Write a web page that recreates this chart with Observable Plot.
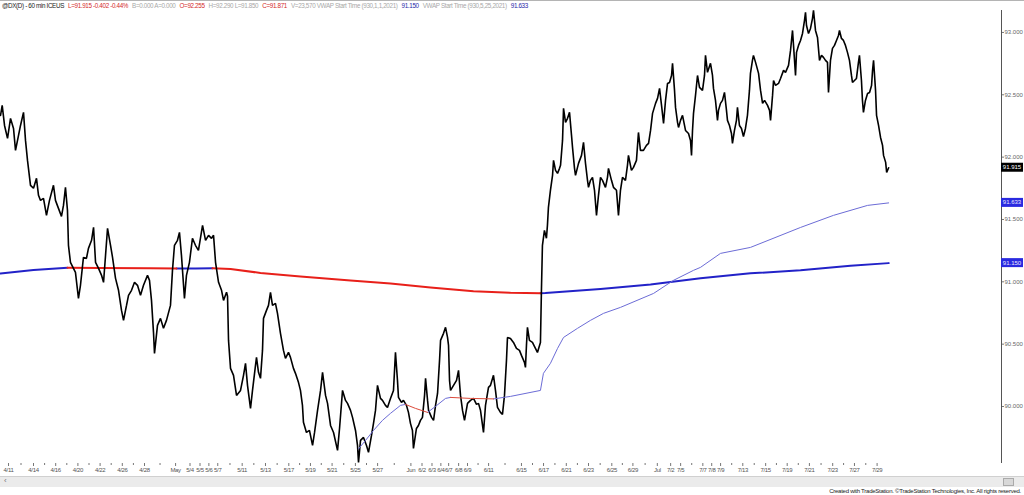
<!DOCTYPE html>
<html><head><meta charset="utf-8">
<script src="https://cdn.jsdelivr.net/npm/d3@7"></script>
<script src="https://cdn.jsdelivr.net/npm/@observablehq/plot@0.6"></script>
<style>
html,body{margin:0;padding:0;background:#fff;}
#wrap{position:relative;width:1024px;height:495px;overflow:hidden;font-family:"Liberation Sans",Arial,sans-serif;background:#fff;}
#topline{position:absolute;left:0;top:0;width:1024px;height:1px;background:#b4b4b4;}
#chart{position:absolute;left:0;top:0;}
#head{position:absolute;left:2px;top:1px;font-size:6.3px;letter-spacing:-0.35px;white-space:nowrap;line-height:9px;}
#head span{margin-right:4px;}
#band{position:absolute;left:0;top:476px;width:1024px;height:10px;background:#ebebeb;border-top:1px solid #d0d0d0;}
#arrow{position:absolute;left:4px;top:476px;font-size:8px;color:#777;line-height:10px;}
#icon{position:absolute;left:1003px;top:478px;width:9px;height:6px;background:#d8d8d8;border:1px solid #aaa;}
#foot{position:absolute;right:3px;top:487px;font-size:6px;letter-spacing:-0.25px;color:#222;line-height:8px;white-space:nowrap;}
</style></head>
<body>
<div id="wrap"><div id="topline"></div><div id="chart"></div><div id="head"></div><div id="band"></div><div id="arrow">‹</div><div id="icon"></div><div id="foot"></div></div>
<script>
// ---- DATA ----
// time in trading days since Apr 12 2021 (hourly bars compressed, weekends removed)
const t = [
-0.97,-0.82,-0.61,-0.34,-0.07,0.20,0.38,0.65,0.83,1.10,
1.28,1.46,1.73,2.00,2.27,2.45,2.63,2.90,3.17,3.44,
3.80,3.98,4.25,4.52,4.70,4.88,5.06,5.15,5.33,5.60,
5.78,6.05,6.23,6.50,6.77,6.95,7.23,7.41,7.59,7.86,
8.13,8.31,8.67,8.94,9.12,9.39,9.66,9.93,10.11,10.38,
10.56,10.83,11.10,11.37,11.64,11.91,12.27,12.45,12.63,12.81,
12.90,13.17,13.44,13.71,13.98,14.34,14.52,14.70,14.97,15.15,
15.33,15.60,15.78,16.05,16.32,16.59,16.86,17.23,17.50,17.77,
18.04,18.22,18.40,18.67,18.94,19.12,19.39,19.48,19.57,19.75,
20.02,20.29,20.65,20.92,21.10,21.28,21.55,21.73,22.00,22.09,
22.27,22.45,22.63,22.72,22.99,23.17,23.35,23.53,23.80,23.98,
24.25,24.52,24.70,24.97,25.15,25.42,25.60,25.87,26.05,26.23,
26.32,26.59,26.86,27.14,27.32,27.59,27.86,28.04,28.31,28.49,
28.76,29.03,29.39,29.57,29.84,30.11,30.29,30.56,30.74,31.01,
31.19,31.28,31.46,31.73,32.00,32.18,32.45,32.63,32.81,32.99,
33.26,33.44,33.71,33.89,34.16,34.43,34.61,34.79,34.88,35.15,
35.33,35.60,35.78,35.96,36.14,36.23,36.50,36.68,36.86,37.04,
37.23,37.32,37.50,37.59,37.86,38.04,38.22,38.40,38.58,38.67,
38.94,39.12,39.30,39.39,39.48,39.57,39.84,40.11,40.29,40.47,
40.65,40.83,41.10,41.37,41.64,41.91,42.09,42.27,42.54,42.72,
42.99,43.17,43.44,43.62,43.80,44.07,44.25,44.43,44.61,44.70,
44.97,45.24,45.51,45.78,45.96,46.23,46.32,46.41,46.50,46.68,
46.95,47.22,47.40,47.67,47.76,47.85,48.03,48.21,48.30,48.39,
48.57,48.76,48.85,49.03,49.21,49.39,49.48,49.66,49.75,49.93,
50.11,50.29,50.47,50.56,50.74,50.83,51.10,51.37,51.55,51.73,
51.91,52.00,52.18,52.36,52.54,52.72,52.90,53.08,53.26,53.53,
53.71,53.80,54.07,54.25,54.52,54.70,54.88,55.06,55.33,55.51,
55.60,55.87,56.05,56.32,56.50,56.68,56.95,57.22,57.41,57.59,
57.77,58.04,58.22,58.40,58.58,58.76,58.94,59.12,59.30,59.48,
59.57,59.75,59.84,60.02,60.11,60.29,60.47,60.65,60.74,61.01,
61.19,61.28,61.37,61.46,61.64,61.82,62.00,62.27,62.45,62.54,
62.72,62.99,63.17,63.26,63.44,63.62,63.71,63.89,64.07,64.25,
64.43,64.52,64.70,64.88,64.97,65.15,65.33,65.42,65.60,65.78,
65.96,66.14,66.32,66.50,66.59,66.77,66.86,67.05,67.32,67.50,
67.68,67.86,68.13,68.31,68.40,68.58,68.67,68.85,69.12,69.30,
69.57,69.75,70.02,70.20,70.38,70.47,70.65,70.74,70.92,71.10,
71.28,71.46,71.55,71.64,71.82,72.00,72.18,72.27,72.45,72.63,
72.81,72.99,73.17,73.35,73.53,73.62,73.80,73.98,74.16,74.34,
74.52,74.61,74.79,74.97,75.15,75.33,75.51,75.69,75.78,75.96,
76.14,76.32,76.41,76.59,76.68,76.77,76.95,77.14,77.32,77.50,
77.59,77.68,77.86,77.95,78.13,78.31,78.49,78.58,78.77,78.86,
79.04];
// DX price (hourly)
const price = [
92.335,92.415,92.254,92.150,92.311,92.230,92.054,92.174,92.254,92.359,
92.134,91.974,91.774,91.750,91.830,91.694,91.653,91.670,91.533,91.653,
91.774,91.653,91.589,91.525,91.613,91.758,91.573,91.293,91.156,91.108,
91.076,90.867,90.972,91.196,91.188,91.268,91.333,91.437,91.156,91.108,
91.052,90.996,91.429,91.293,91.196,91.028,90.932,90.771,90.691,90.811,
90.892,90.932,90.996,90.972,90.892,90.972,91.052,91.012,90.851,90.595,
90.426,90.651,90.707,90.627,90.691,90.811,91.092,91.293,91.333,91.397,
91.212,90.867,91.052,91.156,91.349,91.293,91.252,91.453,91.333,91.373,
91.349,91.373,91.156,90.996,90.932,90.851,90.916,90.884,90.530,90.306,
90.250,90.089,90.129,90.250,90.346,90.170,89.985,90.129,90.330,90.394,
90.274,90.226,90.450,90.707,90.771,90.811,90.916,90.811,90.827,90.747,
90.587,90.450,90.386,90.434,90.394,90.306,90.266,90.194,90.129,90.009,
89.873,89.792,89.808,89.688,89.792,89.969,90.129,90.274,90.089,90.025,
89.848,89.792,89.648,89.824,90.129,90.049,90.025,89.969,89.913,89.808,
89.688,89.552,89.728,89.752,89.688,89.632,89.768,89.865,89.969,90.170,
90.065,90.049,90.009,89.993,90.065,90.129,90.434,90.210,90.073,90.033,
90.049,90.009,89.953,89.865,89.808,89.664,89.824,89.848,89.889,89.913,
90.089,90.226,90.049,89.969,89.913,89.889,90.009,90.105,90.370,90.530,
90.587,90.635,90.554,90.490,90.210,90.129,90.170,90.210,90.290,90.089,
89.969,89.889,90.025,90.049,90.065,90.017,90.025,89.969,89.792,90.009,
90.154,90.170,90.250,90.129,89.993,89.953,89.937,90.089,90.370,90.554,
90.546,90.514,90.466,90.450,90.410,90.354,90.314,90.490,90.635,90.530,
90.514,90.466,90.434,90.514,90.932,91.293,91.413,91.349,91.453,91.597,
91.734,91.854,91.974,91.894,91.870,91.910,91.934,92.134,92.391,92.279,
92.311,92.359,92.174,92.078,91.910,91.854,91.950,92.014,92.118,91.950,
91.814,91.758,91.814,91.838,91.734,91.533,91.694,91.838,91.814,91.758,
91.838,91.910,91.814,91.758,91.734,91.533,91.734,91.838,91.814,91.934,
92.014,91.894,91.918,91.974,92.198,92.054,92.054,92.094,92.110,92.214,
92.351,92.431,92.471,92.551,92.415,92.271,92.455,92.591,92.599,92.655,
92.752,92.535,92.399,92.279,92.238,92.295,92.335,92.254,92.214,92.190,
92.134,92.014,92.214,92.351,92.495,92.655,92.559,92.535,92.655,92.816,
92.680,92.752,92.655,92.551,92.455,92.295,92.375,92.431,92.455,92.519,
92.375,92.295,92.254,92.190,92.110,92.214,92.295,92.399,92.254,92.230,
92.166,92.230,92.335,92.535,92.672,92.776,92.816,92.760,92.672,92.535,
92.431,92.455,92.415,92.375,92.295,92.495,92.615,92.575,92.591,92.631,
92.696,92.680,92.736,92.856,93.016,92.896,92.655,92.840,92.896,92.936,
92.992,93.097,93.161,93.056,92.992,93.032,93.113,93.177,93.016,92.960,
92.776,92.816,92.800,92.776,92.760,92.519,92.776,92.872,92.896,92.936,
92.976,93.016,92.952,92.936,92.896,92.840,92.776,92.655,92.599,92.615,
92.631,92.760,92.816,92.615,92.455,92.359,92.455,92.511,92.519,92.575,
92.696,92.776,92.535,92.335,92.254,92.158,92.094,92.014,91.958,91.878,
91.915];

// VWAP anchored 1/1/2021
const vwapYtdT = [-0.97,2.00,5.06,8.04,12.54,14.88,16.59,18.13,19.75,22.45,26.05,30.56,34.16,37.76,41.64,44.97,47.67,48.12,53.08,57.59,62.09,66.59,71.10,75.60,79.04];
const vwapYtd  = [91.067,91.095,91.113,91.111,91.108,91.106,91.107,91.108,91.103,91.071,91.043,91.011,90.987,90.955,90.925,90.912,90.909,90.910,90.943,90.979,91.028,91.068,91.092,91.128,91.150];
// VWAP anchored 5/25/2021
const vwapMayT = [31.28,31.91,32.63,33.44,34.16,35.06,35.51,36.41,37.50,38.22,39.12,39.57,41.37,43.44,44.97,47.67,47.94,48.57,49.21,49.75,51.01,52.18,53.35,54.88,57.86,59.66,61.46,62.09,63.89,66.59,71.10,74.07,77.14,79.04];
const vwapMay  = [89.660,89.728,89.808,89.889,89.945,90.009,90.017,89.985,89.953,90.001,90.065,90.073,90.065,90.061,90.081,90.129,90.266,90.346,90.466,90.554,90.627,90.691,90.747,90.795,90.907,91.012,91.092,91.116,91.228,91.276,91.436,91.533,91.613,91.633];

// axis labels
const tickLabels = ["4/11","4/14","4/16","4/20","4/22","4/26","4/28","May","5/4","5/5","5/6","5/7","5/11","5/13","5/17","5/19","5/21","5/25","5/27","Jun","6/2","6/3","6/4","6/7","6/8","6/9","6/11","6/15","6/17","6/21","6/23","6/25","6/29","Jul","7/2","7/5","7/7","7/8","7/9","7/13","7/15","7/19","7/21","7/23","7/27","7/29"];
const tickT = [-0.25,2.0,4.0,6.0,8.0,10.0,12.0,14.8,16.1,17.0,17.8,18.6,20.8,22.9,25.0,26.95,28.9,31.0,33.0,36.0,37.0,37.9,38.7,39.4,40.3,41.1,43.0,45.96,47.95,50.0,52.0,54.1,56.0,58.2,59.4,60.3,62.3,63.1,63.9,65.9,67.96,69.9,71.9,74.0,75.96,78.0];
const priceTicks = [90.0,90.5,91.0,91.5,92.0,92.5,93.0];
const lastValues = [91.915,91.633,91.150];
const lastKinds = ["last","vwap","vwap"];

const headerParts = [
  ["@DX(D) - 60 min  ICEUS","k"],["L=91.915  -0.402  -0.44%","r"],["B=0.000  A=0.000","g"],
  ["O=92.255","r"],["H=92.290  L=91.850","g"],["C=91.871","r"],
  ["V=23,570  VWAP Start Time (930,1,1,2021)","g"],["91.150","b"],
  ["VWAP Start Time (930,5,25,2021)","g"],["91.633","b"]
];
const footerText = "Created with TradeStation. \u00A9TradeStation Technologies, Inc. All rights reserved.";

// ---- BUILD ----
const n = Math.min(t.length, price.length);
const series = d3.range(n).map(i => ({t: t[i], v: price[i]}));
// split a VWAP path into runs of rising / falling segments
function runs(ts, vs) {
  const out = [];
  let run = -1, prevUp = null;
  for (let i = 1; i < Math.min(ts.length, vs.length); i++) {
    const up = vs[i] >= vs[i-1];
    if (up !== prevUp) { run++; prevUp = up; out.push({t: ts[i-1], v: vs[i-1], run, up}); }
    out.push({t: ts[i], v: vs[i], run, up});
  }
  return out;
}
const r1 = runs(vwapYtdT, vwapYtd), r2 = runs(vwapMayT, vwapMay);
const labelMap = new Map(tickT.map((d, i) => [d, tickLabels[i]]));
const midTicks = [];
for (let i = 1; i < tickT.length; i++) if (tickT[i] - tickT[i-1] > 1.5) midTicks.push((tickT[i] + tickT[i-1]) / 2);

const X0 = -0.973, X1 = 89.207;
const RED = "#e8201a", BLUE = "#2222c8", THIN_BLUE = "#6c6cd6", THIN_RED = "#dc4a3a";

const plot = Plot.plot({
  width: 1024, height: 476,
  marginTop: 10, marginBottom: 13, marginLeft: 0, marginRight: 23,
  x: {domain: [X0, X1]},
  y: {domain: [89.543, 93.176]},
  style: {fontFamily: "Liberation Sans, Arial, sans-serif", fontSize: "6px", background: "transparent", color: "#555", overflow: "visible"},
  marks: [
    Plot.axisX({ticks: midTicks, tickSize: 2, tickFormat: () => "", label: null, stroke: "#777"}),
    Plot.axisX({ticks: tickT, tickFormat: d => labelMap.get(d), tickSize: 3, tickPadding: 1.5, label: null, fill: "#555", stroke: "#777", fontSize: 6}),
    Plot.axisY({anchor: "right", ticks: priceTicks, tickFormat: d3.format(".3f"), tickSize: 2, tickPadding: 1, label: null, fill: "#666", stroke: "#777", fontSize: 6}),
    Plot.ruleX([X1], {stroke: "#555", strokeWidth: 1}),
    Plot.line(r1.filter(d => d.up), {x: "t", y: "v", z: "run", stroke: BLUE, strokeWidth: 2}),
    Plot.line(r1.filter(d => !d.up), {x: "t", y: "v", z: "run", stroke: RED, strokeWidth: 2}),
    Plot.line(series, {x: "t", y: "v", stroke: "#000", strokeWidth: 1.6, strokeLinejoin: "miter"}),
    Plot.line(r2.filter(d => d.up), {x: "t", y: "v", z: "run", stroke: THIN_BLUE, strokeWidth: 1}),
    Plot.line(r2.filter(d => !d.up), {x: "t", y: "v", z: "run", stroke: THIN_RED, strokeWidth: 1})
  ]
});

// compress x tick label spacing like the reference's narrow font
d3.select(plot).selectAll('g[aria-label="x-axis tick label"] text').attr("letter-spacing", "-0.35");

// last-value boxes on the right axis, positioned through Plot's scales
const sx = plot.scale("x"), sy = plot.scale("y");
const svg = d3.select(plot);
const gx = sx.apply(X1);
const g = svg.append("g");
lastValues.forEach((v, i) => {
  const yy = sy.apply(v);
  g.append("rect").attr("x", gx).attr("y", yy - 4.5).attr("width", 22).attr("height", 9)
    .attr("fill", lastKinds[i] === "last" ? "#000" : "#2a2ae0");
  g.append("text").attr("x", gx + 11).attr("y", yy).attr("dy", "0.35em")
    .attr("text-anchor", "middle").attr("font-size", 6).attr("fill", lastKinds[i] === "last" ? "#fff" : "#e8e8ff")
    .text(d3.format(".3f")(v));
});

document.getElementById("chart").appendChild(plot);

const colors = {k: "#222", r: "#d42a2a", g: "#a8a8a8", b: "#2828a8"};
const head = d3.select("#head");
headerParts.forEach(([txt, c]) => head.append("span").style("color", colors[c]).text(txt));
document.getElementById("foot").textContent = footerText;
</script>
</body></html>
